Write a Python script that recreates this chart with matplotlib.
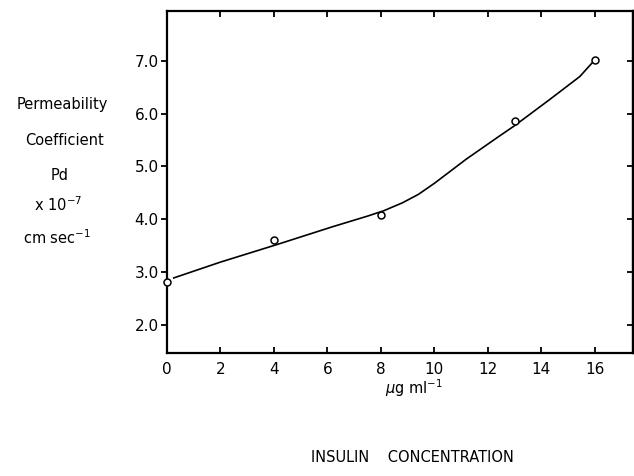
import numpy as np
import matplotlib.pyplot as plt

# measured points
conc = np.array([0, 4, 8, 13, 16])
pd = np.array([2.81, 3.60, 4.09, 5.85, 7.02])

# hand-drawn fitted curve
curve_x = np.array([0.25, 2.0, 4.1, 6.2, 7.5, 8.1, 8.8, 9.4, 10.0, 10.6, 11.2, 12.45, 13.0, 14.3, 15.44, 15.94])
curve_y = np.array([2.89, 3.19, 3.52, 3.86, 4.06, 4.16, 4.31, 4.47, 4.68, 4.91, 5.14, 5.58, 5.77, 6.26, 6.70, 6.98])

xticks = [0, 2, 4, 6, 8, 10, 12, 14, 16]
yticks = [2.0, 3.0, 4.0, 5.0, 6.0, 7.0]
ylabels = ['2.0', '3.0', '4.0', '5.0', '6.0', '7.0']

fig = plt.figure(figsize=(6.34, 4.76), dpi=100)
ax = fig.add_axes([0.2634, 0.2578, 0.7346, 0.7191])

ax.plot(curve_x, curve_y, 'k-', lw=1.2)
ax.plot(conc, pd, 'ko', markersize=5, markerfacecolor='white', markeredgewidth=1.1, clip_on=False, zorder=5)

ax.set_xlim(0, 17.42)
ax.set_ylim(1.465, 7.94)
ax.set_xticks(xticks)
ax.set_yticks(yticks)
ax.set_yticklabels(ylabels)
ax.tick_params(axis='both', labelsize=11, width=1.3, length=4)
ax.tick_params(axis='x', direction='in', top=True, pad=6)
ax.tick_params(axis='y', direction='out', pad=2)
for s in ax.spines.values():
    s.set_linewidth(1.6)

# right side ticks point inward
ax2 = ax.secondary_yaxis('right')
ax2.set_yticks(yticks)
ax2.tick_params(direction='in', width=1.3, length=4, labelright=False)
ax2.spines['right'].set_linewidth(1.6)

fs = 10.5
fig.text(62 / 634, 1 - 105 / 476, 'Permeability', ha='center', va='center', fontsize=fs)
fig.text(64 / 634, 1 - 140 / 476, 'Coefficient', ha='center', va='center', fontsize=fs)
fig.text(60 / 634, 1 - 175 / 476, 'Pd', ha='center', va='center', fontsize=fs)
fig.text(58 / 634, 1 - 205 / 476, r'x 10$^{-7}$', ha='center', va='center', fontsize=fs)
fig.text(57 / 634, 1 - 238 / 476, r'cm sec$^{-1}$', ha='center', va='center', fontsize=fs)

fig.text(414 / 634, 1 - 388 / 476, r'$\mu$g ml$^{-1}$', ha='center', va='center', fontsize=fs)
fig.text(412 / 634, 1 - 458 / 476, 'INSULIN    CONCENTRATION', ha='center', va='center', fontsize=fs)

plt.savefig('out.png', dpi=100)
